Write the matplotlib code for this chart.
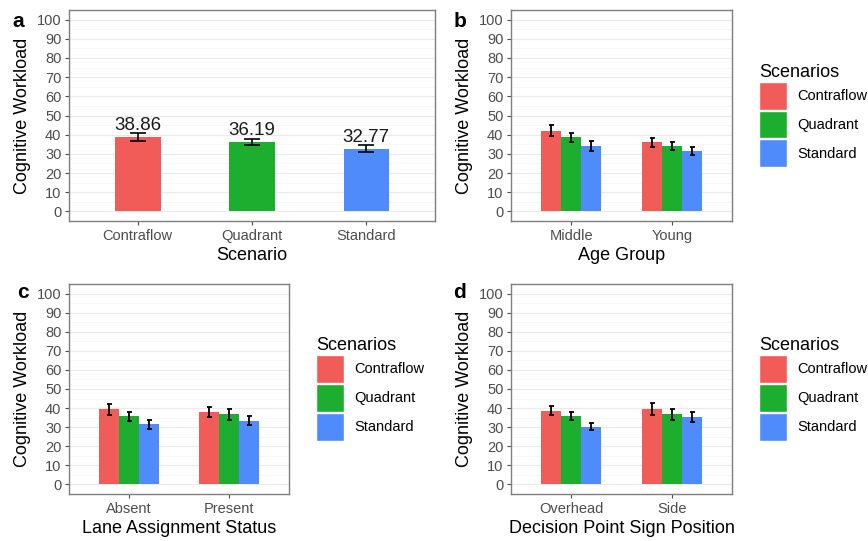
import numpy as np
import matplotlib.pyplot as plt
from matplotlib.patches import Patch

plt.rcParams['font.family'] = ['Liberation Sans', 'DejaVu Sans']

# === Data
scenarios = ["Contraflow", "Quadrant", "Standard"]
colors = ["#F25C58", "#1DAD2F", "#4F8BFB"]

# panel a: overall by scenario
a_means = [38.86, 36.19, 32.77]
a_err = [1.9, 1.7, 1.6]

# panel b: age group
b_groups = ["Middle", "Young"]
b_means = {"Contraflow": [42.0, 36.0], "Quadrant": [38.6, 34.1], "Standard": [34.1, 31.3]}
b_err = {"Contraflow": [2.9, 2.5], "Quadrant": [2.3, 2.3], "Standard": [2.5, 2.1]}

# panel c: lane assignment status
c_groups = ["Absent", "Present"]
c_means = {"Contraflow": [39.4, 38.0], "Quadrant": [35.6, 36.8], "Standard": [31.6, 33.5]}
c_err = {"Contraflow": [2.9, 2.6], "Quadrant": [2.2, 2.8], "Standard": [2.4, 2.3]}

# panel d: decision point sign position
d_groups = ["Overhead", "Side"]
d_means = {"Contraflow": [38.7, 39.4], "Quadrant": [36.0, 36.8], "Standard": [30.2, 35.4]}
d_err = {"Contraflow": [2.3, 3.1], "Quadrant": [2.2, 2.8], "Standard": [1.9, 2.5]}

W, H = 868, 541
fig = plt.figure(figsize=(W / 100, H / 100), dpi=100)


def px_axes(l, t, r, b):
    return fig.add_axes([l / W, 1 - b / H, (r - l) / W, (b - t) / H])


def style(ax, xlabel):
    ax.set_ylim(-5, 105)
    ax.set_yticks(np.arange(0, 101, 10))
    ax.set_yticks(np.arange(5, 100, 10), minor=True)
    ax.grid(axis='y', which='major', color='#EBEBEB', lw=0.8)
    ax.grid(axis='y', which='minor', color='#F4F4F4', lw=0.5)
    ax.grid(axis='x', visible=False)
    ax.set_axisbelow(True)
    ax.tick_params(axis='y', which='minor', length=0)
    ax.tick_params(which='major', length=3, width=0.8, color='#4D4D4D',
                   labelsize=10.5, labelcolor='#4D4D4D', pad=2.5)
    for s in ax.spines.values():
        s.set_color('#7F7F7F')
        s.set_linewidth(1.0)
    ax.set_ylabel("Cognitive Workload", fontsize=13, labelpad=4)
    ax.set_xlabel(xlabel, fontsize=13, labelpad=3)


def grouped(ax, groups, means, errs, xlabel):
    x = np.arange(len(groups))
    w = 0.2
    for i, s in enumerate(scenarios):
        pos = x + (i - 1) * w
        ax.bar(pos, means[s], width=w, color=colors[i], zorder=2)
        ax.errorbar(pos, means[s], yerr=errs[s], fmt='none', ecolor='black',
                    elinewidth=1.3, capsize=1.8, capthick=1.3, zorder=3)
    ax.set_xticks(x)
    ax.set_xticklabels(groups)
    ax.set_xlim(-0.6, len(groups) - 0.4)
    style(ax, xlabel)
    handles = [Patch(facecolor=c, edgecolor='white', lw=1) for c in colors]
    leg = ax.legend(handles, scenarios, title="Scenarios", loc='center left',
                    bbox_to_anchor=(1.0 + 27 / 221, 0.5), frameon=False,
                    fontsize=10.5, title_fontsize=13, borderpad=0, borderaxespad=0,
                    handlelength=1.9, handleheight=2.57, labelspacing=0.07,
                    handletextpad=0.75, alignment='left')
    return leg


# === Panel a
ax_a = px_axes(69, 10, 435, 221)
xa = np.arange(len(scenarios))
ax_a.bar(xa, a_means, width=0.4, color=colors, zorder=2)
ax_a.errorbar(xa, a_means, yerr=a_err, fmt='none', ecolor='black',
              elinewidth=1.2, capsize=6, capthick=1.2, zorder=3)
for xi, m in zip(xa, a_means):
    ax_a.text(xi, m + 1.5, f"{m:.2f}", ha='center', va='bottom', fontsize=13.5,
              color='#1A1A1A', zorder=4)
ax_a.set_xticks(xa)
ax_a.set_xticklabels(scenarios)
ax_a.set_xlim(-0.6, 2.6)
style(ax_a, "Scenario")

# === Panels b, c, d
ax_b = px_axes(511, 10, 732, 221)
grouped(ax_b, b_groups, b_means, b_err, "Age Group")

ax_c = px_axes(69, 284, 289, 494)
grouped(ax_c, c_groups, c_means, c_err, "Lane Assignment Status")

ax_d = px_axes(511, 284, 732, 494)
grouped(ax_d, d_groups, d_means, d_err, "Decision Point Sign Position")

# === Panel letters
for lab, x, y in [("a", 12, 27), ("b", 454, 27), ("c", 17, 298), ("d", 453, 298)]:
    fig.text(x / W, 1 - y / H, lab, fontsize=15, fontweight='bold',
             ha='left', va='baseline')

fig.savefig("out.png", dpi=100, facecolor='white')
